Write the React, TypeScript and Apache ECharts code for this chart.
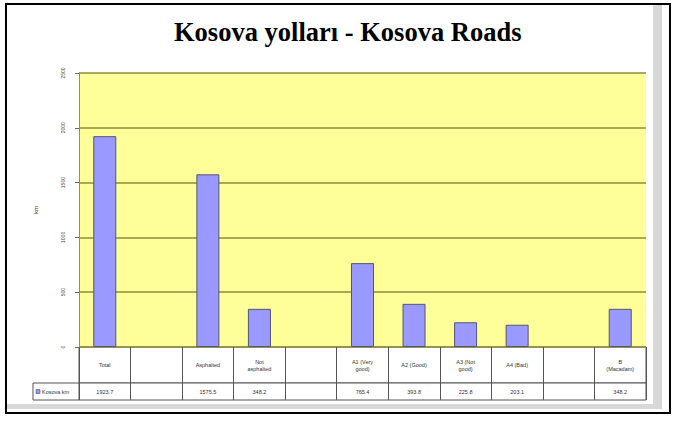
import React, { useEffect, useRef } from "react";
import * as echarts from "echarts";

const title = "Kosova yolları - Kosova Roads";
const categories = ["Total", " ", "Asphalted", "Not\nasphalted", "  ", "A1 (Very\ngood)", "A2 (Good)", "A3 (Not\ngood)", "A4 (Bad)", "   ", "B\n(Macadam)"];
const values: (number | null)[] = [1923.7, null, 1575.5, 348.2, null, 765.4, 393.8, 225.8, 203.1, null, 348.2];
const seriesName = "Kosova km";
const yTicks = { min: 0, max: 2500, interval: 500 };
const yName = "km";

export default function App() {
  const ref = useRef<HTMLDivElement>(null);
  useEffect(() => {
    if (!ref.current) return;
    const chart = echarts.init(ref.current, null, { renderer: "svg" });
    const L = 79, R = 37;
    const cellLine = "#555";
    const tinyText = { fontSize: 5.5, color: "#333", fontFamily: "Arial, sans-serif", lineHeight: 7 };
    chart.setOption({
      animation: false,
      backgroundColor: "#fff",
      title: {
        text: title,
        left: 169,
        top: 13,
        textStyle: { fontFamily: "'Liberation Serif', 'Times New Roman', serif", fontWeight: "bold", fontSize: 26.5, color: "#000" },
      },
      graphic: [
        { type: "rect", shape: { x: 653, y: 5, width: 9, height: 404 }, style: { fill: "#d8d8d8" }, z: -1 },
        { type: "rect", shape: { x: 6, y: 404, width: 656, height: 5 }, style: { fill: "#d8d8d8" }, z: -1 },
        { type: "rect", shape: { x: 6, y: 4, width: 664, height: 409 }, style: { fill: "none", stroke: "#000", lineWidth: 2 } },
        { type: "rect", shape: { x: 33, y: 383, width: L - 33, height: 17 }, style: { fill: "#fff", stroke: cellLine, lineWidth: 1 } },
        { type: "rect", shape: { x: 36, y: 389.5, width: 4, height: 4 }, style: { fill: "#9999FF", stroke: "#333", lineWidth: 0.5 } },
        { type: "text", x: 42, y: 391.5, style: { text: seriesName, fontSize: 5.5, fill: "#333", verticalAlign: "middle", fontFamily: "Arial, sans-serif" } },
      ],
      grid: [
        { left: L, right: R, top: 73, height: 274, show: true, backgroundColor: "#FFFF99", borderWidth: 0 },
        { left: L, right: R, top: 347, height: 36, show: true, backgroundColor: "#fff", borderColor: cellLine, borderWidth: 1 },
        { left: L, right: R, top: 383, height: 17, show: true, backgroundColor: "#fff", borderColor: cellLine, borderWidth: 1 },
      ],
      xAxis: [
        {
          type: "category", gridIndex: 0, data: categories,
          axisLine: { show: false }, axisTick: { show: false }, axisLabel: { show: false },
        },
        {
          type: "category", gridIndex: 1, data: categories, position: "bottom",
          axisLine: { show: false }, axisTick: { show: false },
          splitLine: { show: true, interval: 0, lineStyle: { color: cellLine, width: 1 } },
          axisLabel: { interval: 0, margin: -18, verticalAlign: "middle", ...tinyText },
        },
        {
          type: "category", gridIndex: 2, data: categories, position: "bottom",
          axisLine: { show: false }, axisTick: { show: false },
          splitLine: { show: true, interval: 0, lineStyle: { color: cellLine, width: 1 } },
          axisLabel: {
            interval: 0, margin: -8.5, verticalAlign: "middle", ...tinyText,
            formatter: (_v: string, i: number) => (values[i] == null ? "" : (values[i] as number).toFixed(1)),
          },
        },
      ],
      yAxis: [
        {
          type: "value", gridIndex: 0, ...yTicks,
          name: yName, nameLocation: "middle", nameGap: 40, nameRotate: 90,
          nameTextStyle: { fontSize: 6, color: "#333", fontFamily: "Arial, sans-serif" },
          axisLine: { show: true, lineStyle: { color: "#8a8a8a", width: 1 } },
          axisTick: { show: true, length: 4, lineStyle: { color: "#666" } },
          axisLabel: { fontSize: 5, color: "#444", rotate: 90, margin: 14, fontFamily: "Arial, sans-serif", formatter: (v: number) => String(v) },
          splitLine: { show: true, lineStyle: { color: "#8c8c3c", width: 1.5 } },
        },
        { type: "value", gridIndex: 1, min: 0, max: 1, show: false },
        { type: "value", gridIndex: 2, min: 0, max: 1, show: false },
      ],
      series: [
        {
          type: "bar", name: seriesName, xAxisIndex: 0, yAxisIndex: 0,
          data: values, barWidth: 23,
          itemStyle: { color: "#9999FF", borderColor: "#555570", borderWidth: 1 },
        },
      ],
    });
    return () => chart.dispose();
  }, []);
  return <div ref={ref} style={{ position: "fixed", left: 0, top: 0, width: 683, height: 421 }} />;
}
